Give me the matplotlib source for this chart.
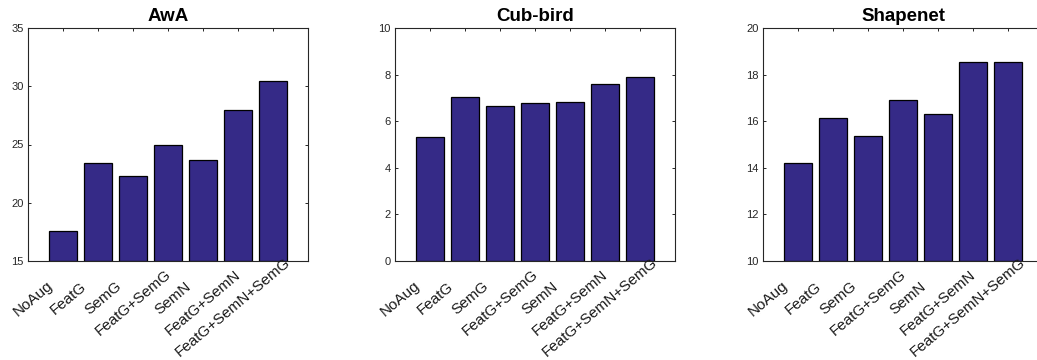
import numpy as np
import matplotlib
matplotlib.use("Agg")
import matplotlib.pyplot as plt
from matplotlib.transforms import ScaledTranslation
from matplotlib.font_manager import FontProperties

categories = ["NoAug", "FeatG", "SemG", "FeatG+SemG", "SemN", "FeatG+SemN", "FeatG+SemN+SemG"]
titles = ["AwA", "Cub-bird", "Shapenet"]
awa = [17.55, 23.4, 22.3, 25.0, 23.7, 27.95, 30.45]
cub = [5.32, 7.04, 6.64, 6.77, 6.82, 7.59, 7.89]
shapenet = [14.22, 16.13, 15.35, 16.93, 16.30, 18.55, 18.52]
series = [awa, cub, shapenet]
ylims = [(15, 35), (0, 10), (10, 20)]
yticks = [[15, 20, 25, 30, 35], [0, 2, 4, 6, 8, 10], [10, 12, 14, 16, 18, 20]]

W, H, DPI = 1037, 360, 100
fig = plt.figure(figsize=(W / DPI, H / DPI), dpi=DPI)
plt.rcParams['font.family'] = ['Liberation Sans', 'DejaVu Sans']

bar_color = '#352a87'
axis_color = '#262626'
lefts_px = [28, 395, 763]
ax_w_px, ax_top_px, ax_bot_px = 280, 28, 261

axes = []
for k in range(3):
    ax = fig.add_axes([lefts_px[k] / W, (H - ax_bot_px) / H, ax_w_px / W, (ax_bot_px - ax_top_px) / H])
    x = np.arange(1, len(categories) + 1)
    lo = ylims[k][0]
    vals = np.array(series[k])
    ax.bar(x, vals - lo, bottom=lo, width=0.8, color=bar_color, edgecolor='black', linewidth=0.9, zorder=2)
    ax.set_xlim(0, len(categories) + 1)
    ax.set_ylim(*ylims[k])
    ax.set_yticks(yticks[k])
    ax.set_yticklabels([str(v) for v in yticks[k]])
    ax.set_xticks(x)
    ax.tick_params(axis='both', direction='in', length=2.5, width=0.7, color=axis_color,
                   top=True, right=True, labelbottom=False, labelsize=8, labelcolor=axis_color, pad=3)
    for s in ax.spines.values():
        s.set_color(axis_color)
        s.set_linewidth(0.8)
    ax.set_title(titles[k], fontsize=13.5, fontweight='bold', pad=5)
    axes.append(ax)

renderer = fig.canvas.get_renderer()
fp = FontProperties(family='Liberation Sans', size=11)
theta = np.deg2rad(40)
frac = 0.64
for ax in axes:
    for i, lab in enumerate(categories):
        w, h, d = renderer.get_text_width_height_descent(lab, fp, ismath=False)
        ox = -25 - frac * w * np.cos(theta)
        oy = -33.5 - frac * w * np.sin(theta)
        tr = ax.get_xaxis_transform() + ScaledTranslation(ox / DPI, oy / DPI, fig.dpi_scale_trans)
        ax.text(i + 1, 0, lab, transform=tr, rotation=40, rotation_mode='anchor',
                ha='left', va='center', fontproperties=fp, color='#1a1a1a', clip_on=False)

fig.savefig("out.png", dpi=DPI)
